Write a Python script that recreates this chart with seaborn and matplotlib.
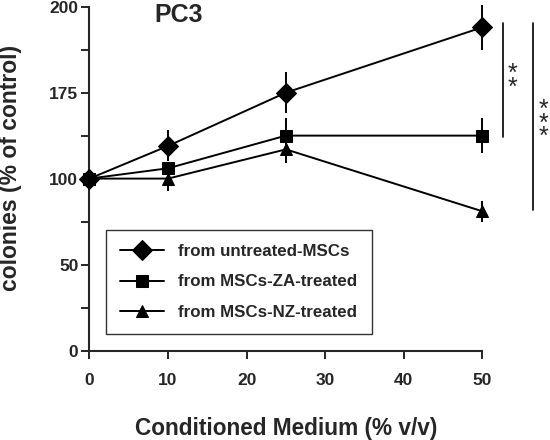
import matplotlib
matplotlib.use('Agg')
import matplotlib.pyplot as plt
import seaborn as sns

# conditioned medium concentration (% v/v)
conc = [0, 10, 25, 50]

# colonies (% of control) and error bars
untreated = [100, 119, 150, 188]
untreated_err = [0, 9, 12, 13]
za_treated = [100, 106, 125, 125]
za_err = [0, 0, 10, 10]
nz_treated = [100, 100, 117, 81]
nz_err = [0, 7, 8, 6]

series_names = ['from untreated-MSCs', 'from MSCs-ZA-treated', 'from MSCs-NZ-treated']
series_markers = ['D', 's', '^']

yticks = [0, 25, 50, 75, 100, 125, 150, 175, 200]
ytick_labels = ['0', '', '50', '', '100', '', '175', '', '200']
xticks = [0, 10, 20, 30, 40, 50]


def make_plot():
    sns.set_style('ticks')
    plt.rcParams['font.family'] = ['Liberation Sans', 'DejaVu Sans']
    plt.rcParams['font.weight'] = 'bold'

    fig = plt.figure(figsize=(5.5, 4.4), dpi=100)
    ax = fig.add_axes([0.1627, 0.2034, 0.7142, 0.7814])

    data = [(untreated, untreated_err), (za_treated, za_err), (nz_treated, nz_err)]
    for (vals, errs), name, mk in zip(data, series_names, series_markers):
        ms = 10 if mk == 'D' else 8.8
        sns.lineplot(x=conc, y=vals, ax=ax, color='black', lw=1.4, marker=mk,
                     markersize=ms, markeredgecolor='black', label=name, clip_on=False,
                     zorder=3)
        ax.errorbar(conc, vals, yerr=errs, fmt='none', ecolor='black', elinewidth=1.4,
                    capsize=0, clip_on=False, zorder=2)

    ax.set_xlim(0, 50)
    ax.set_ylim(0, 200)
    ax.set_yticks(yticks)
    ax.set_yticklabels(ytick_labels)
    ax.set_xticks(xticks)
    ax.tick_params(axis='both', direction='out', length=6, width=1.4, labelsize=12.5)
    ax.tick_params(axis='x', pad=10)
    ax.tick_params(axis='y', pad=2)
    for lab in ax.get_xticklabels() + ax.get_yticklabels():
        lab.set_fontweight('bold')

    sns.despine(ax=ax)
    ax.spines['left'].set_linewidth(1.5)
    ax.spines['bottom'].set_linewidth(1.5)

    ax.set_xlabel('Conditioned Medium (% v/v)', fontsize=16.3, fontweight='bold')
    ax.xaxis.set_label_coords(0.5, -0.193)
    ax.set_ylabel('colonies (% of control)', fontsize=16.5, fontweight='bold')
    ax.yaxis.set_label_coords(-0.172, 0.53)
    ax.text(11.4, 195, 'PC3', fontsize=18, fontweight='bold', ha='center', va='center')

    # significance bars
    ax.plot([52.6, 52.6], [124.4, 190.3], color='black', lw=1.2, clip_on=False)
    ax.text(53.8, 157, '*\n*', fontsize=18, fontweight='normal', ha='center',
            va='center', linespacing=0.45)
    ax.plot([56.4, 56.4], [81.8, 190.3], color='black', lw=1.2, clip_on=False)
    ax.text(57.8, 132, '*\n*\n*', fontsize=18, fontweight='normal', ha='center',
            va='center', linespacing=0.45)

    leg = ax.legend(loc='upper left', bbox_to_anchor=(0.042, 0.351), borderaxespad=0,
                    fontsize=12.2, frameon=True, fancybox=False, edgecolor='black',
                    handlelength=2.6, labelspacing=0.9, borderpad=0.85, handletextpad=0.8)
    leg.get_frame().set_linewidth(1.0)
    for t in leg.get_texts():
        t.set_fontweight('bold')

    plt.savefig('out.png', dpi=100)


if __name__ == '__main__':
    make_plot()
